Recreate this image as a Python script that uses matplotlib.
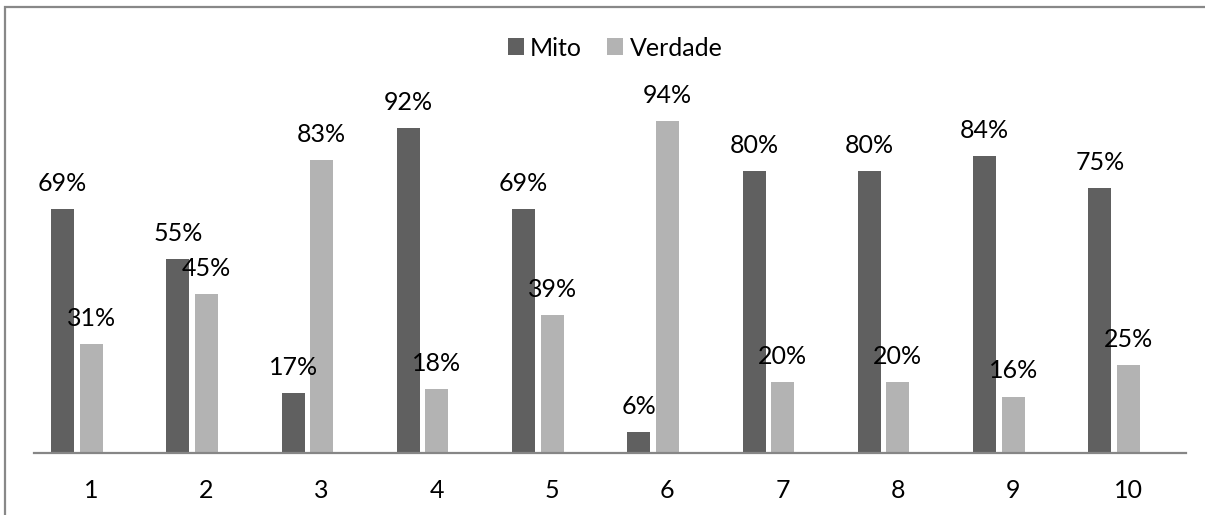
import numpy as np
import matplotlib.pyplot as plt
from matplotlib.patches import Rectangle

# 各题的"神话/事实"比例 (%)
categories = ['1', '2', '3', '4', '5', '6', '7', '8', '9', '10']
mito = [69, 55, 17, 92, 69, 6, 80, 80, 84, 75]
verdade = [31, 45, 83, 18, 39, 94, 20, 20, 16, 25]

plt.rcParams['font.family'] = ['Lato', 'DejaVu Sans']

cor_mito = '#606060'
cor_verdade = '#b3b3b3'
fs = 18

fig = plt.figure(figsize=(12.05, 5.15), dpi=100)
ax = fig.add_axes([33.5 / 1205, 62 / 515, (1186 - 33.5) / 1205, 353 / 515])

x = np.arange(len(categories))
largura = 0.2
b1 = ax.bar(x - 0.247, mito, largura, color=cor_mito, label='Mito')
b2 = ax.bar(x, verdade, largura, color=cor_verdade, label='Verdade')

# rótulos de valor acima das barras
for barras, valores in ((b1, mito), (b2, verdade)):
    for r, v in zip(barras, valores):
        ax.annotate(f'{v}%', (r.get_x() + r.get_width() / 2, v),
                    xytext=(0, 13), textcoords='offset points',
                    ha='center', va='baseline', fontsize=fs, color='black')

ax.set_xlim(-0.5, len(categories) - 0.5)
ax.set_ylim(0, 100)
ax.set_xticks(x)
ax.set_xticklabels(categories, fontsize=fs)
ax.tick_params(axis='x', length=0, pad=19)
ax.set_yticks([])
for lado in ('top', 'right', 'left'):
    ax.spines[lado].set_visible(False)
ax.spines['bottom'].set_color('#868686')
ax.spines['bottom'].set_linewidth(1.6)

fig.legend(handles=[b1, b2], loc='center', bbox_to_anchor=(615 / 1205, 1 - 48 / 515),
           ncol=2, frameon=False, fontsize=fs, handlelength=0.65, handleheight=0.65,
           handletextpad=0.25, columnspacing=1.0, borderpad=0)

# moldura do gráfico
fig.patches.append(Rectangle((5 / 1205, -0.1), 1.2, 1.1 - 7 / 515,
                             transform=fig.transFigure, fill=False,
                             edgecolor='#888888', linewidth=1.6))

fig.savefig('out.png', dpi=100)
